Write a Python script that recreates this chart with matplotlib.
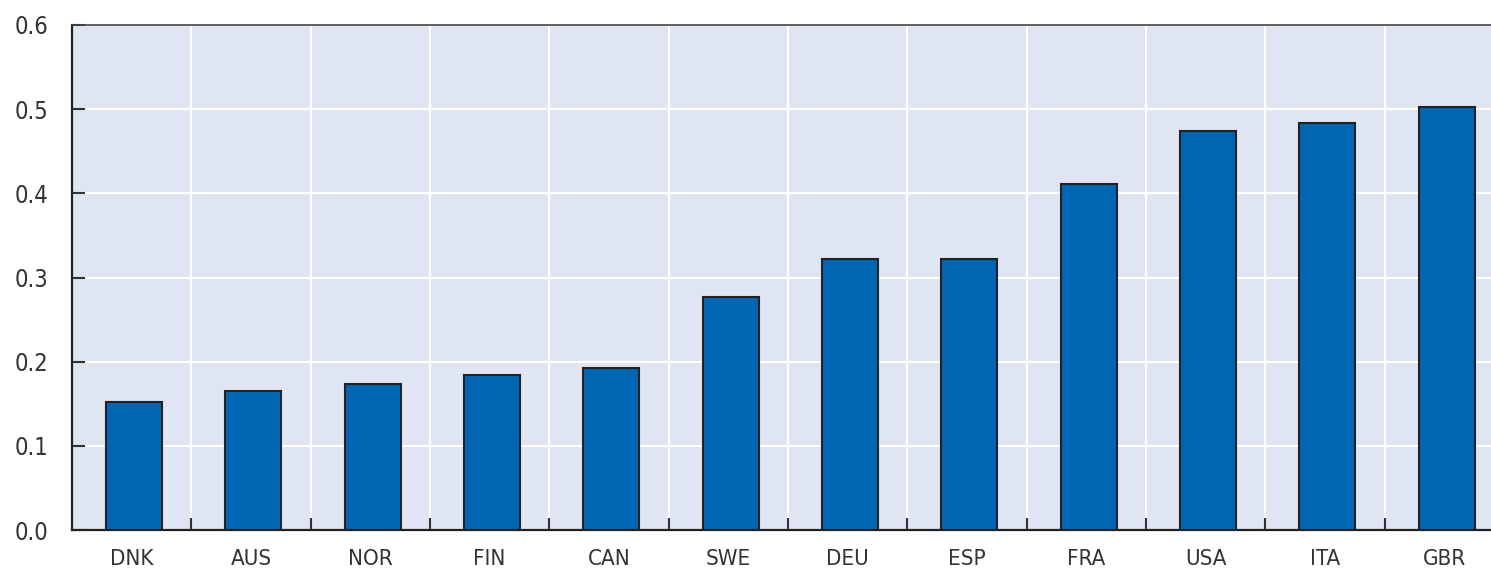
import matplotlib.pyplot as plt
import numpy as np

# 数据
countries = ['DNK', 'AUS', 'NOR', 'FIN', 'CAN', 'SWE', 'DEU', 'ESP', 'FRA', 'USA', 'ITA', 'GBR']
values = [0.152, 0.165, 0.173, 0.184, 0.192, 0.277, 0.322, 0.322, 0.411, 0.474, 0.484, 0.503]
y_ticks = [0.0, 0.1, 0.2, 0.3, 0.4, 0.5, 0.6]

# 原图是窄体字, 尽量用 condensed
plt.rcParams['font.family'] = ['DejaVu Sans']
plt.rcParams['font.stretch'] = 'condensed'

fig = plt.figure(figsize=(14.91, 5.69), dpi=100)
# 右边缘在原图中被裁掉, 所以坐标轴延伸到图外
ax = fig.add_axes([72 / 1491, 39 / 569, 1432 / 1491, 505 / 569])

x = np.arange(len(countries))
ax.bar(x + 0.02, values, width=0.47, color='#0066b3', edgecolor='#222222', linewidth=1.5, zorder=3)

ax.set_facecolor('#dfe5f2')
ax.set_xlim(-0.5, len(countries) - 0.5)
ax.set_ylim(0, 0.6)
ax.set_yticks(y_ticks)
ax.set_yticklabels([f'{v:.1f}' for v in y_ticks])
ax.set_xticks(x)
ax.set_xticklabels(countries)
ax.set_xticks(x[:-1] + 0.5, minor=True)

# 网格线
ax.grid(axis='y', color='white', linewidth=1.5)
ax.grid(axis='x', which='minor', color='white', linewidth=1.5)
ax.grid(axis='x', which='major', visible=False)

ax.tick_params(axis='x', which='major', length=0, pad=14, labelsize=16, labelcolor='#333333')
ax.tick_params(axis='x', which='minor', direction='in', length=9, width=1.5, color='#333333')
ax.tick_params(axis='y', direction='in', length=9, width=1.5, color='#333333', pad=17,
               labelsize=17, labelcolor='#333333')

for side in ['left', 'bottom']:
    ax.spines[side].set_color('#222222')
    ax.spines[side].set_linewidth(1.6)
ax.spines['top'].set_color('#444444')
ax.spines['top'].set_linewidth(1.2)
ax.spines['right'].set_visible(False)

plt.savefig('out.png', dpi=100)
plt.close()
